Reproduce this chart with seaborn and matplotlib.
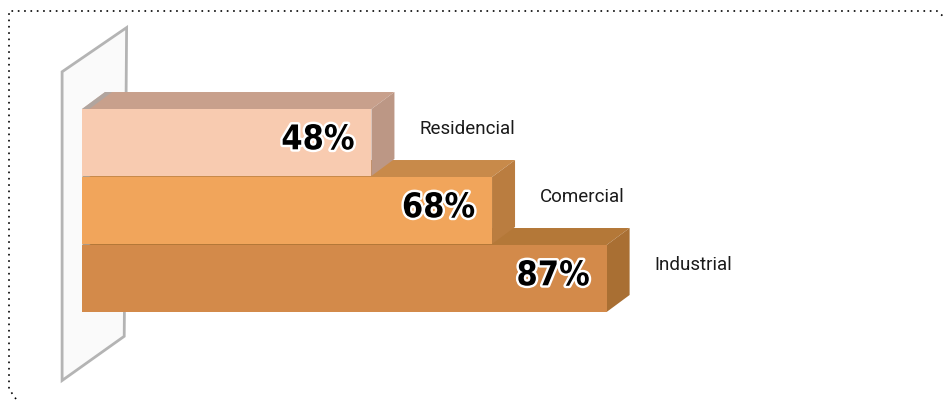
import numpy as np
import matplotlib
matplotlib.use("Agg")
import matplotlib.pyplot as plt
import matplotlib.patheffects as pe
from matplotlib.patches import Polygon
from matplotlib.lines import Line2D
import seaborn as sns

categories = ["Residencial", "Comercial", "Industrial"]
values = [48, 68, 87]
front_colors = ["#F8CBB0", "#F1A55B", "#D38A4A"]
top_colors = ["#C8A08C", "#C88A4A", "#B47838"]
side_colors = ["#BC9785", "#BA7D40", "#A96F33"]

sns.set_theme(style="white")
plt.rcParams["font.family"] = ["Roboto", "DejaVu Sans"]

fig = plt.figure(figsize=(9.46, 4.02), dpi=100)
ax = fig.add_axes([0, 0, 1, 1])

sns.barplot(x=values, y=categories, hue=categories, palette=front_colors,
            orient="h", width=0.985, saturation=1, legend=False, ax=ax,
            linewidth=0)

# pixel scale: 0% at x=82px, about 6.03 px per percent; 68 px per bar row
ax.set_xlim(-82 / 6.03, (946 - 82) / 6.03)
ax.set_ylim((402 - 143.5) / 68, -143.5 / 68)
ax.axis("off")

dx = 23 / 6.03   # depth offset, in percent units
dy = 17 / 68     # depth offset, in row units

# back wall
wall = Polygon([(-3.3, -1.04), (7.4, -1.69), (7.0, 2.85), (-3.3, 3.5)],
               closed=True, facecolor="#fafafa", edgecolor="#b4b4b4",
               linewidth=2, zorder=1)
ax.add_patch(wall)

n = len(categories)
for i, p in enumerate(ax.patches[:n]):
    x0, w = p.get_x(), p.get_width()
    y0, h = p.get_y(), p.get_height()
    z = 3 + (n - i) * 3
    p.set_zorder(z)
    top = Polygon([(x0, y0), (x0 + w, y0), (x0 + w + dx, y0 - dy), (x0 + dx, y0 - dy)],
                  closed=True, facecolor=top_colors[i], edgecolor="none", zorder=z - 1)
    side = Polygon([(x0 + w, y0), (x0 + w + dx, y0 - dy),
                    (x0 + w + dx, y0 + h - dy), (x0 + w, y0 + h)],
                   closed=True, facecolor=side_colors[i], edgecolor="none", zorder=z - 1)
    # grey shadow where the bar meets the wall
    shade = Polygon([(x0, y0), (x0 + 1.2, y0), (x0 + 1.2 + dx, y0 - dy), (x0 + dx, y0 - dy)],
                    closed=True, facecolor="#a8a8a8", edgecolor="none", alpha=0.7, zorder=z - 1)
    ax.add_patch(top)
    ax.add_patch(side)
    ax.add_patch(shade)

for i, (cat, v) in enumerate(zip(categories, values)):
    ax.text(v - 2.8, i - 0.04, f"{v}%", ha="right", va="center",
            fontsize=24.5, fontweight="bold", fontstretch="condensed", color="black",
            family=["Liberation Sans Narrow", "DejaVu Sans"],
            path_effects=[pe.withStroke(linewidth=3.5, foreground="white")],
            zorder=20)
    ax.text(v + 8.0, i - 0.22, cat, ha="left", va="center",
            fontsize=13.5, color="#1a1a1a", zorder=20)

# dotted frame
W, H = 946, 402
frame_x = [16, 9, 9, 937, 944]
frame_y = [400, 390, 12, 12, 18]
fig.add_artist(Line2D([x / W for x in frame_x], [1 - y / H for y in frame_y],
                      transform=fig.transFigure, color="black", linewidth=1.2,
                      linestyle=(0, (1, 2.8))))

fig.savefig("out.png", dpi=100)
